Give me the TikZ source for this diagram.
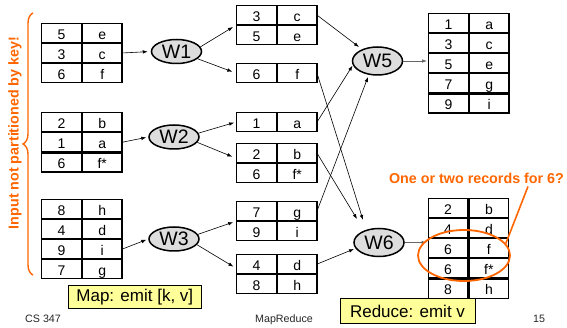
\documentclass[tikz,border=0pt]{standalone}
\usepackage{fontspec}
\setmainfont{Liberation Sans}
\usetikzlibrary{matrix,shapes.geometric,decorations.pathreplacing,arrows.meta,calc}
\definecolor{hot}{RGB}{255,102,0}
\definecolor{notefill}{RGB}{255,255,153}
\definecolor{workerfill}{RGB}{221,221,221}
\begin{document}
\begin{tikzpicture}[x=1pt,y=-1pt,
  cell/.style={draw, line width=1.2pt, minimum width=39.6pt, minimum height=19pt,
    inner sep=0pt, outer sep=0pt, text height=12.8pt, text depth=0pt,
    font=\fontsize{14}{14}\selectfont},
  tbl/.style={matrix of nodes, nodes={cell}, inner sep=0pt, outer sep=0pt,
    column sep=0pt, row sep=0pt, anchor=north west},
  worker/.style={ellipse, draw, line width=1.5pt, fill=workerfill, minimum width=50pt,
    minimum height=#1, inner sep=0pt, font=\fontsize{19.5}{19.5}\selectfont},
  worker/.default=24pt,
  flow/.style={line width=0.6pt, -{Latex[length=5pt,width=3.6pt]}},
  outflow/.style={flow, draw=black!60, line width=0.8pt},
  notebox/.style={draw, line width=0.8pt, fill=notefill, inner sep=0pt,
    font=\fontsize{17}{17}\selectfont},
  footer/.style={anchor=base, inner sep=0pt, text=black!85,
    font=\fontsize{10.7}{10.7}\selectfont},
  remark/.style={text=hot, inner sep=0pt, font=\fontsize{14.3}{14.3}\selectfont\bfseries}]
\useasboundingbox (0,0) rectangle (567,328);

% input splits
\matrix (in1) [tbl] at (41,22.7) { 5 & e \\ 3 & c \\ 6 & f \\ };
\matrix (in2) [tbl] at (41,112) { 2 & b \\ 1 & a \\ 6 & f* \\ };
\matrix (in3) [tbl] at (41,198.7) { 8 & h \\ 4 & d \\ 9 & i \\ 7 & g \\ };

% map workers
\node[worker] (w1) at (176.5,51.5) {W1};
\node[worker] (w2) at (174,137) {W2};
\node[worker] (w3) at (174,239) {W3};

% intermediate partitions
\matrix (m1) [tbl] at (236,5) { 3 & c \\ 5 & e \\ };
\matrix (m2) [tbl] at (236,63) { 6 & f \\ };
\matrix (m3) [tbl] at (236,112) { 1 & a \\ };
\matrix (m4) [tbl] at (236,143) { 2 & b \\ 6 & f* \\ };
\matrix (m5) [tbl] at (236,201) { 7 & g \\ 9 & i \\ };
\matrix (m6) [tbl] at (236,254) { 4 & d \\ 8 & h \\ };

% reduce workers
\node[worker=28pt] (w5) at (377.5,61) {W5};
\node[worker=28pt] (w6) at (379,242.5) {W6};

% outputs
\matrix (out1) [tbl] at (428,12.7) { 1 & a \\ 3 & c \\ 5 & e \\ 7 & g \\ 9 & i \\ };
\matrix (out2) [tbl] at (427.7,197.7) { 2 & b \\ 4 & d \\ 6 & f \\ 6 & f* \\ 8 & h \\ };

% map inputs
\draw[flow,shorten >=3pt] (in1-2-2.east) -- (w1.west);
\draw[flow,shorten >=2pt] (in2-2-2.east) -- (w2.west);
\draw[flow,shorten >=2pt] (in3-3-2.east) -- (w3.west);

% map outputs
\draw[flow,shorten >=3.5pt] (w1.11) -- (m1.west);
\draw[flow,shorten >=4pt] (w1.341) -- (m2.west);
\draw[flow,shorten >=2pt] (w2.9) -- (m3.west);
\draw[flow,shorten >=4pt] (w2.347) -- ([yshift=5pt]m4.west);
\draw[flow,shorten >=3pt] (w3.11) -- (m5.west);
\draw[flow,shorten >=3pt] (w3.346) -- ([yshift=6pt]m6.west);

% shuffle
\draw[flow] (m1-1-2.east) -- ($(w5)+(-18.5,-14)$);
\draw[flow] (m3-1-2.east) -- ($(w5)+(-25,4.7)$);
\draw[flow] (m5-1-2.east) -- ($(w5)+(-9.5,16)$);
\draw[flow] (m2-1-2.east) -- ($(w6)+(-16,-22.5)$);
\draw[flow] (m4-1-2.east) -- ($(w6)+(-22,-23.5)$);
\draw[flow] (m6-1-2.east) -- ($(w6)+(-25,6.5)$);

% reduce outputs
\draw[outflow,shorten >=1pt] (w5.east) -- (w5.east -| out1.west);
\draw[outflow,shorten >=1pt] (w6.east) -- (w6.east -| out2.west);

% remarks
\draw[hot, line width=1.4pt, decorate, decoration={brace, amplitude=10pt}] (33,275) -- (33,13);
\node[remark, rotate=90] (inremark) at (15,133) {Input not partitioned by key!};

\node[ellipse, draw=hot, line width=1.8pt, minimum width=92pt, minimum height=51pt,
  inner sep=0pt] (hl) at (464,255.5) {};
\node[remark] (q) at (476.5,178) {One or two records for 6?};
\draw[hot, line width=1.6pt] (hl.16) -- ($(q.south)+(51.5,3)$);

% captions
\node[notebox, minimum width=133.7pt, minimum height=23.3pt] (mapnote) at (134.8,296.7) {Map: emit [k, v]};
\node[notebox, minimum width=135pt, minimum height=24.3pt] (rednote) at (407.5,311) {Reduce: emit v};

% footer
\node[footer, anchor=base west] (course) at (25,322.5) {CS 347};
\node[footer] (topic) at (284,322.5) {MapReduce};
\node[footer] (page) at (539,322.5) {15};
\end{tikzpicture}
\end{document}
